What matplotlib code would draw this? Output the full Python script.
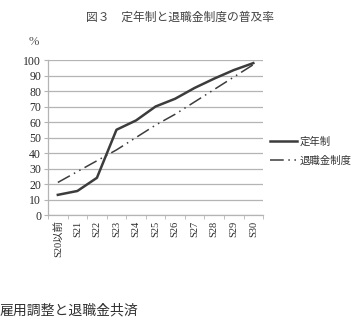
import matplotlib.pyplot as plt
import numpy as np

plt.rcParams['font.family'] = ['Noto Sans CJK JP', 'DejaVu Sans']

# data
categories = ['S20以前', 'S21', 'S22', 'S23', 'S24', 'S25', 'S26', 'S27', 'S28', 'S29', 'S30']
teinen = [13, 15.5, 24, 55, 61, 70, 75, 82, 88, 93.5, 98]
taishoku = [21, 28, 35, 42, 50, 58, 65, 73, 81, 89, 97]
yticks = [0, 10, 20, 30, 40, 50, 60, 70, 80, 90, 100]

line_col = '#3c3c3c'
grid_col = '#b4b4b4'
serif = ['Liberation Serif', 'Noto Sans CJK JP']

fig = plt.figure(figsize=(3.56, 3.27), dpi=100)
ax = fig.add_axes([0.135, 0.3425, 0.604, 0.474])

x = np.arange(len(categories))
ax.plot(x, teinen, color=line_col, lw=1.8, label='定年制')
ax.plot(x, taishoku, color=line_col, lw=1.1, linestyle=(0, (9, 3, 1, 3, 1, 3)), label='退職金制度')

ax.set_xlim(-0.5, len(categories) - 0.5)
ax.set_ylim(0, 100)
ax.set_yticks(yticks)
ax.set_yticklabels([str(v) for v in yticks], family=serif, fontsize=8.5, color='#2a2a2a')
ax.set_xticks(x)
ax.set_xticklabels(categories, rotation=90, family=serif, fontsize=7.5, color='#2a2a2a')
ax.tick_params(axis='x', length=0, pad=4)
ax.set_xticks(np.arange(len(categories) + 1) - 0.5, minor=True)
ax.tick_params(axis='x', which='minor', length=3, color=grid_col, direction='out')
ax.tick_params(axis='y', length=3, color=grid_col, pad=2)

ax.grid(axis='y', color=grid_col, lw=0.9)
ax.set_axisbelow(True)
for s in ['top', 'right']:
    ax.spines[s].set_visible(False)
for s in ['left', 'bottom']:
    ax.spines[s].set_color(grid_col)
    ax.spines[s].set_linewidth(0.9)

leg = ax.legend(loc='center left', bbox_to_anchor=(0.99, 0.41), frameon=False,
                fontsize=7.5, handlelength=2.6, handletextpad=0.2, labelspacing=0.85)
for t in leg.get_texts():
    t.set_color('#333333')

fig.text(0.505, 0.948, '図３　定年制と退職金制度の普及率', ha='center', va='center',
         fontsize=8.5, color='#444444')
fig.text(0.095, 0.872, '%', ha='center', va='center', fontsize=9, color='#555555',
         family=serif)
fig.text(0.0, 0.052, '雇用調整と退職金共済', ha='left', va='center',
         fontsize=10, color='#333333')

fig.savefig('out.png', dpi=100)
